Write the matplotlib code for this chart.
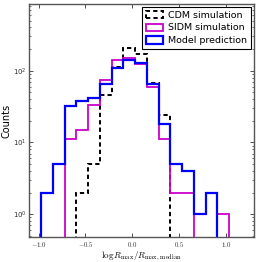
import numpy as np
import matplotlib
matplotlib.use("Agg")
import matplotlib.pyplot as plt
from matplotlib.ticker import FuncFormatter, LogLocator
from matplotlib.patches import Rectangle

plt.rcParams['mathtext.fontset'] = 'cm'

# Data
bin_edges = np.linspace(-0.975, 1.035, 17)
cdm_counts   = [0, 0, 0, 2, 5, 46, 112, 209, 169, 67, 24, 0, 0, 0, 0, 0]
sidm_counts  = [0, 0, 11, 15, 33, 74, 141, 150, 124, 59, 11, 2, 2, 0, 0, 1]
model_counts = [2, 5, 32, 38, 41, 65, 108, 140, 127, 65, 18, 5, 4, 1, 2, 0]
labels = ["CDM simulation", "SIDM simulation", "Model prediction"]
x_ticks = [-1.0, -0.5, 0.0, 0.5, 1.0]

centers = 0.5 * (bin_edges[:-1] + bin_edges[1:])

fig = plt.figure(figsize=(2.58, 2.62), dpi=100)
ax = fig.add_axes([0.1136, 0.0954, 0.8709, 0.8893])

styles = [
    dict(color='black', linestyle=(0, (2.2, 1.6)), linewidth=1.4),
    dict(color='#cc00cc', linestyle='-', linewidth=1.3),
    dict(color='#0000ff', linestyle='-', linewidth=1.6),
]
handles = []
for counts, lab, st in zip([cdm_counts, sidm_counts, model_counts], labels, styles):
    ax.hist(centers, bins=bin_edges, weights=counts, histtype='step', log=True,
            color=st['color'], linestyle=st['linestyle'], linewidth=st['linewidth'])
    handles.append(Rectangle((0, 0), 1, 1, facecolor='none', edgecolor=st['color'],
                             linestyle=st['linestyle'], linewidth=st['linewidth'], label=lab))

ax.set_xlim(-1.1, 1.3)
ax.set_ylim(0.48, 850)
ax.set_yscale('log')
ax.set_xticks(x_ticks)
ax.xaxis.set_major_formatter(FuncFormatter(lambda v, p: r'$%.1f$' % v if abs(v) > 1e-9 else r'$0.0$'))
ax.yaxis.set_major_locator(LogLocator(base=10))
ax.yaxis.set_minor_locator(LogLocator(base=10, subs=np.arange(2, 10)))

ax.tick_params(axis='both', which='both', direction='in', top=True, right=True,
               labelsize=5, pad=2, colors='#333333')
ax.tick_params(which='major', length=3, width=0.6)
ax.tick_params(which='minor', length=1.5, width=0.5)
for s in ax.spines.values():
    s.set_color('#555555')
    s.set_linewidth(1.0)

ax.set_xlabel(r'$\log R_{\rm max}/R_{\rm max,\,median}$', fontsize=6.5, labelpad=0.5)
ax.set_ylabel('Counts', fontsize=7, labelpad=1)

leg = ax.legend(handles=handles, loc='upper right', fontsize=6.8, fancybox=False,
                edgecolor='black', framealpha=1, borderaxespad=0.3, handlelength=1.8,
                handleheight=0.8, labelspacing=0.4, borderpad=0.4, handletextpad=0.6)
leg.get_frame().set_linewidth(0.8)

fig.savefig('out.png', dpi=100)
